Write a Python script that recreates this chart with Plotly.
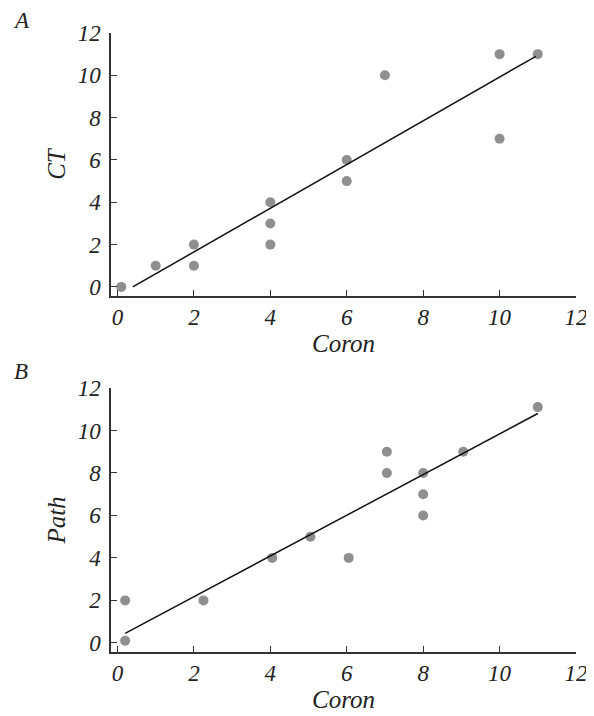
import plotly.graph_objects as go

# Panel A: CT vs Coron
coron_a = [0.1, 1, 2, 2, 4, 4, 4, 6, 6, 7, 10, 10, 11]
ct_a = [0.0, 1, 2, 1, 4, 3, 2, 6, 5, 10, 11, 7, 11]
fit_a_x = [0.4, 10.95]
fit_a_y = [0.0, 10.9]

# Panel B: Path vs Coron
coron_b = [0.2, 0.2, 2.25, 4.05, 5.05, 6.05, 7.05, 7.05, 8, 8, 8, 9.05, 11]
path_b = [2, 0.1, 2, 4, 5, 4, 9, 8, 8, 7, 6, 9, 11.1]
fit_b_x = [0.2, 11]
fit_b_y = [0.45, 10.8]

tick_vals = [0, 2, 4, 6, 8, 10, 12]
tick_text = ["0", "2", "4", "6", "8", "10", "12"]

FONT = "Liberation Serif, Times New Roman, serif"
MARKER = "#8f8f8f"
AXIS = "#333333"

fig = go.Figure()

fig.add_trace(go.Scatter(x=coron_a, y=ct_a, mode="markers",
                         marker=dict(color=MARKER, size=10, line=dict(width=0)),
                         xaxis="x", yaxis="y", showlegend=False))
fig.add_trace(go.Scatter(x=fit_a_x, y=fit_a_y, mode="lines",
                         line=dict(color="#111111", width=1.5),
                         xaxis="x", yaxis="y", showlegend=False))
fig.add_trace(go.Scatter(x=coron_b, y=path_b, mode="markers",
                         marker=dict(color=MARKER, size=10, line=dict(width=0)),
                         xaxis="x2", yaxis="y2", showlegend=False))
fig.add_trace(go.Scatter(x=fit_b_x, y=fit_b_y, mode="lines",
                         line=dict(color="#111111", width=1.5),
                         xaxis="x2", yaxis="y2", showlegend=False))

tickfont = dict(family=FONT, size=23, color="#222222")
titlefont = dict(family=FONT, size=25, color="#222222")
italic_ticks = ["<i>%s</i>" % t for t in tick_text]

def xaxis(anchor):
    return dict(domain=[0, 1], anchor=anchor, range=[-0.17, 12],
                tickvals=tick_vals, ticktext=italic_ticks,
                ticks="inside", ticklen=6, tickwidth=1.2, tickcolor=AXIS,
                showline=True, linecolor=AXIS, linewidth=1.5,
                showgrid=False, zeroline=False, tickfont=tickfont,
                ticklabelstandoff=0, automargin=False,
                title=dict(text="<i>Coron</i>", font=titlefont, standoff=4))

def yaxis(anchor, domain, title):
    return dict(domain=domain, anchor=anchor, range=[-0.43, 12],
                tickvals=tick_vals, ticktext=italic_ticks,
                ticks="inside", ticklen=6, tickwidth=1.2, tickcolor=AXIS,
                showline=True, linecolor=AXIS, linewidth=1.5,
                showgrid=False, zeroline=False, tickfont=tickfont,
                ticklabelstandoff=4, automargin=False,
                title=dict(text="<i>%s</i>" % title, font=titlefont, standoff=5))

# The page body adds an 8px offset; the figure is sized so it ends at the window edge.
W, H = 586, 708
l, r, t, b = 103, 18, 25, 64
pw, ph = W - l - r, H - t - b

def letter(text, px, py):
    return dict(text="<i>%s</i>" % text, x=(px - l) / pw, y=(H - b - py) / ph,
                xref="paper", yref="paper", showarrow=False,
                xanchor="center", yanchor="middle",
                font=dict(family=FONT, size=23, color="#222222"))

fig.update_layout(
    width=W, height=H,
    margin=dict(l=l, r=r, t=t, b=b, autoexpand=False),
    paper_bgcolor="white", plot_bgcolor="white",
    xaxis=xaxis("y"),
    yaxis=yaxis("x", [0.5751, 1.0], "CT"),
    xaxis2=xaxis("y2"),
    yaxis2=yaxis("x2", [0.0, 0.4265], "Path"),
    annotations=[letter("A", 13, 13), letter("B", 13, 363)],
)

fig.write_html("out.html")
